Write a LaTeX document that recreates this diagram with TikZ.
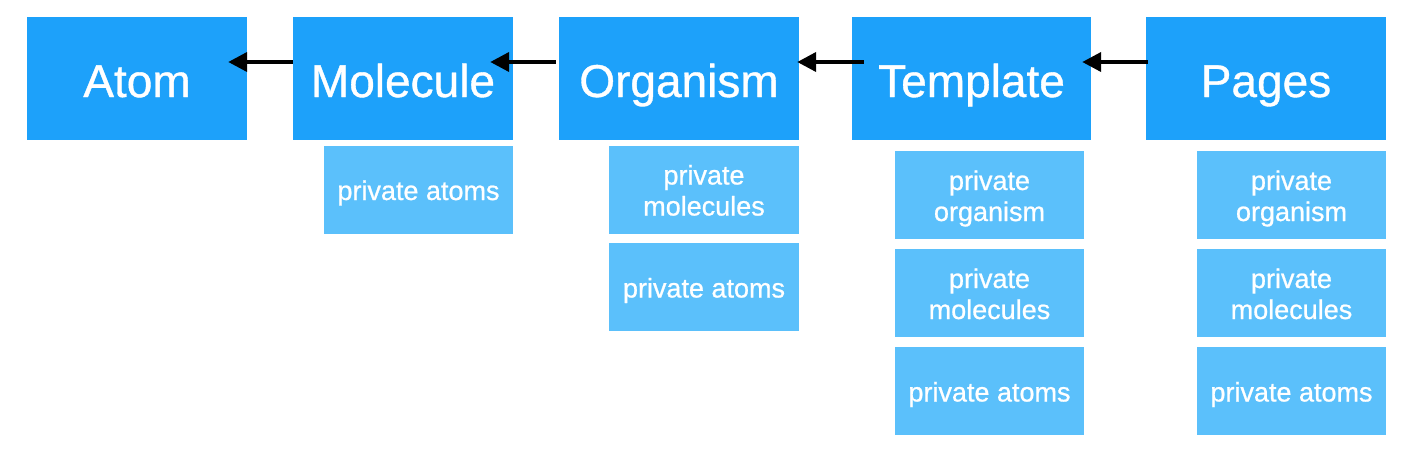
\documentclass[tikz,border=0pt]{standalone}
\usepackage{fontspec}
\setmainfont{Liberation Sans}
\newfontfamily\medfont{Liberation Sans}[UprightFeatures={FakeBold=0.8}]
\usetikzlibrary{arrows.meta}
\definecolor{mainblue}{RGB}{29,161,250}
\definecolor{subblue}{RGB}{91,192,251}
\tikzset{
    oneline/.style={text height=21pt, text depth=0pt},
    twoline/.style={text height=52pt, text depth=0pt}
}
\begin{document}
\begin{tikzpicture}[x=1pt,y=-1pt]
            \useasboundingbox (0,0) rectangle (1422,458);
            \begin{scope}[every node/.style={fill=mainblue, text=white, inner sep=0pt,
                            minimum height=123pt, text height=37pt, text depth=0pt,
                            font=\medfont\fontsize{46}{55}\selectfont}]

                \node[minimum width=220pt] (atom) at (137,78.5) {Atom};
                \node[minimum width=220pt] (molecule) at (403,78.5) {Molecule};
                \node[minimum width=240pt] (organism) at (679,78.5) {Organism};
                \node[minimum width=239pt] (template) at (971.5,78.5) {Template};
                \node[minimum width=240pt] (pages) at (1266,78.5) {Pages};

            \end{scope}
            \begin{scope}[every node/.style={fill=subblue, text=white, inner sep=0pt,
                            minimum width=189pt, minimum height=88pt, align=center,
                            font=\medfont\fontsize{27}{31}\selectfont}]

                \node[oneline] (mol_atoms) at (418.5,189.5) {private atoms};

                \node[twoline, minimum width=190pt] (org_molecules) at (704,189.5) {private\\molecules};
                \node[oneline, minimum width=190pt] (org_atoms) at (704,287) {private atoms};

                \node[twoline] (tpl_organism) at (989.5,195) {private\\organism};
                \node[twoline] (tpl_molecules) at (989.5,293) {private\\molecules};
                \node[oneline] (tpl_atoms) at (989.5,391) {private atoms};

                \node[twoline] (pg_organism) at (1291.5,195) {private\\organism};
                \node[twoline] (pg_molecules) at (1291.5,293) {private\\molecules};
                \node[oneline] (pg_atoms) at (1291.5,391) {private atoms};

            \end{scope}
            \begin{scope}[every edge/.style={draw, black, line width=4pt,
                            -{Triangle[length=19pt,width=19pt]}}]
                \path ([yshift=16.5pt]molecule.west) edge ([xshift=-19pt,yshift=16.5pt]atom.east);
                \path ([xshift=-3pt,yshift=16.5pt]organism.west) edge ([xshift=-23pt,yshift=16.5pt]molecule.east);
                \path ([xshift=12pt,yshift=16.5pt]template.west) edge ([xshift=-2pt,yshift=16.5pt]organism.east);
                \path ([xshift=2pt,yshift=16.5pt]pages.west) edge ([xshift=-9pt,yshift=16.5pt]template.east);
            \end{scope}

        \end{tikzpicture}
\end{document}
